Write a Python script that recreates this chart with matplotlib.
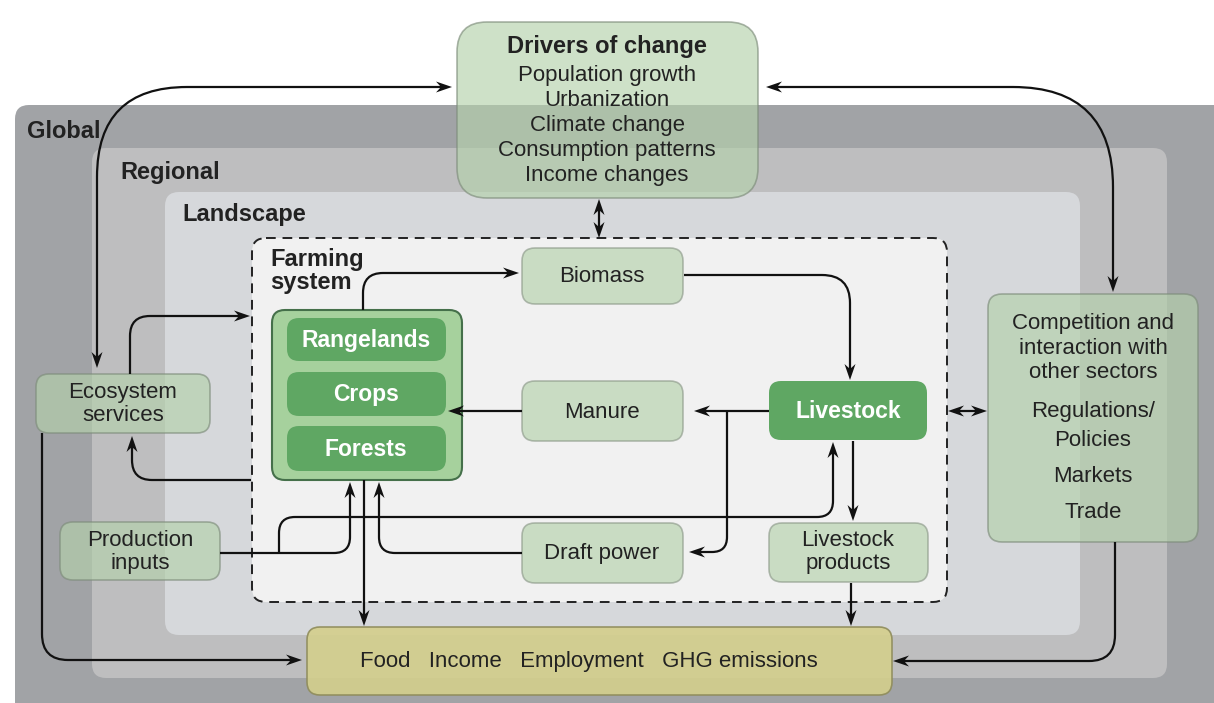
import numpy as np
import matplotlib.pyplot as plt
from matplotlib.patches import FancyBboxPatch, Polygon, PathPatch
from matplotlib.path import Path

plt.rcParams['font.family'] = ['Liberation Sans', 'DejaVu Sans']

# labels
layers = ["Global", "Regional", "Landscape"]
drivers_title = "Drivers of change"
drivers = ["Population growth", "Urbanization", "Climate change",
           "Consumption patterns", "Income changes"]
land_uses = ["Rangelands", "Crops", "Forests"]
farm_nodes = ["Biomass", "Manure", "Draft power"]
competition = ["Competition and", "interaction with", "other sectors",
               "Regulations/", "Policies", "Markets", "Trade"]
outcomes = ["Food", "Income", "Employment", "GHG emissions"]

# colours
GLOBAL = '#a1a3a6'
REGIONAL = '#bebebf'
LANDSCAPE = '#d6d8db'
FARM_BG = '#f1f1f1'
LIGHT = '#b4d1ab'
DARK = '#5fa763'
CONTAINER = '#a6d19d'
FOOD = '#d4cf8c'
TXT = '#222222'

fig = plt.figure(figsize=(12.14, 7.03), dpi=100)
ax = fig.add_axes([0, 0, 1, 1])
ax.set_xlim(0, 1214)
ax.set_ylim(703, 0)
ax.axis('off')


def box(x0, y0, x1, y1, fc, ec='none', r=12, lw=1.2, alpha=1.0, ls='-', z=1):
    p = FancyBboxPatch((x0, y0), x1 - x0, y1 - y0,
                       boxstyle=f"round,pad=0,rounding_size={r}",
                       fc=fc, ec=ec, lw=lw, alpha=alpha, ls=ls, zorder=z)
    ax.add_patch(p)
    return p


def route(pts, r):
    pts = [np.array(p, float) for p in pts]
    verts = [pts[0]]
    codes = [Path.MOVETO]
    for i in range(1, len(pts) - 1):
        p0, p1, p2 = pts[i - 1], pts[i], pts[i + 1]
        d1 = (p1 - p0) / np.linalg.norm(p1 - p0)
        d2 = (p2 - p1) / np.linalg.norm(p2 - p1)
        rr = min(r, np.linalg.norm(p1 - p0) * 0.9, np.linalg.norm(p2 - p1) * 0.9)
        verts += [p1 - d1 * rr, p1, p1 + d2 * rr]
        codes += [Path.LINETO, Path.CURVE3, Path.CURVE3]
    verts.append(pts[-1])
    codes.append(Path.LINETO)
    return Path(verts, codes)


def head(tip, d, L=16, w=5.5, notch=5):
    tip = np.array(tip, float)
    d = np.array(d, float) / np.linalg.norm(d)
    n = np.array([-d[1], d[0]])
    poly = [tip, tip - L * d + w * n, tip - (L - notch) * d, tip - L * d - w * n]
    ax.add_patch(Polygon(poly, closed=True, fc='#111111', ec='none', zorder=6))


def arrow(pts, r=15, ends='end'):
    pts = [np.array(p, float) for p in pts]
    if ends in ('end', 'both'):
        d = pts[-1] - pts[-2]
        d = d / np.linalg.norm(d)
        head(pts[-1], d)
        pts[-1] = pts[-1] - d * 10
    if ends in ('start', 'both'):
        d = pts[0] - pts[1]
        d = d / np.linalg.norm(d)
        head(pts[0], d)
        pts[0] = pts[0] - d * 10
    ax.add_patch(PathPatch(route(pts, r), fc='none', ec='#111111', lw=1.6, zorder=5))


# nested scales
box(15, 105, 1260, 760, GLOBAL, r=14, z=0)
box(92, 148, 1167, 678, REGIONAL, r=14, z=0.2)
box(165, 192, 1080, 635, LANDSCAPE, r=14, z=0.4)
box(252, 238, 947, 602, FARM_BG, ec='#222222', r=14, lw=1.4, ls=(0, (5, 3.5)), z=0.6)

for name, (x, y) in zip(layers, [(27, 131), (120, 172), (182, 215)]):
    ax.text(x, y, name, fontsize=17, fontweight='bold', color=TXT, va='center', ha='left', zorder=7)
ax.text(270, 271, "Farming\nsystem", fontsize=17, fontweight='bold', color=TXT,
        va='center', ha='left', linespacing=1.05, zorder=7)

# drivers
box(457, 22, 758, 198, LIGHT, ec='#7d8c7a', r=30, alpha=0.65, z=3)
ax.text(607, 46, drivers_title, fontsize=17, fontweight='bold', color=TXT, ha='center', va='center', zorder=7)
for i, s in enumerate(drivers):
    ax.text(607, 75 + i * 25.2, s, fontsize=16, color=TXT, ha='center', va='center', zorder=7)

# competition
box(988, 294, 1198, 542, LIGHT, ec='#7d8c7a', r=14, alpha=0.65, z=3)
for s, y in zip(competition, [323, 348, 372, 412, 441, 477, 512]):
    ax.text(1093, y, s, fontsize=16, color=TXT, ha='center', va='center', zorder=7)

# side boxes
box(36, 374, 210, 433, LIGHT, ec='#7d8c7a', r=13, alpha=0.65, z=3)
ax.text(123, 404, "Ecosystem\nservices", fontsize=16, color=TXT, ha='center', va='center', linespacing=1.15, zorder=7)
box(60, 522, 220, 580, LIGHT, ec='#7d8c7a', r=13, alpha=0.65, z=3)
ax.text(140, 552, "Production\ninputs", fontsize=16, color=TXT, ha='center', va='center', linespacing=1.15, zorder=7)

# farm nodes
for s, (y0, y1) in zip(farm_nodes, [(248, 304), (381, 441), (523, 583)]):
    box(522, y0, 683, y1, LIGHT, ec='#8d9a8a', r=13, alpha=0.65, z=3)
    ax.text(602, (y0 + y1) / 2 + 1, s, fontsize=16, color=TXT, ha='center', va='center', zorder=7)
box(769, 523, 928, 582, LIGHT, ec='#8d9a8a', r=13, alpha=0.65, z=3)
ax.text(848, 552, "Livestock\nproducts", fontsize=16, color=TXT, ha='center', va='center', linespacing=1.15, zorder=7)

box(769, 381, 927, 440, DARK, r=12, z=3)
ax.text(848, 411, "Livestock", fontsize=16.5, fontweight='bold', color='white', ha='center', va='center', zorder=7)

# land uses
box(272, 310, 462, 480, CONTAINER, ec='#45704a', r=13, lw=1.5, z=3)
for s, (y0, y1) in zip(land_uses, [(318, 361), (372, 416), (426, 471)]):
    box(287, y0, 446, y1, DARK, r=12, z=4)
    ax.text(366, (y0 + y1) / 2 + 1, s, fontsize=16.5, fontweight='bold', color='white', ha='center', va='center', zorder=7)

# outcomes
box(307, 627, 892, 695, FOOD, ec='#8f8c5b', r=13, alpha=0.9, z=3)
ax.text(589, 662, "   ".join(outcomes), fontsize=16, color=TXT, ha='center', va='center', zorder=7)

# arrows
arrow([(97, 368), (97, 87), (452, 87)], r=90, ends='both')
arrow([(766, 87), (1113, 87), (1113, 292)], r=100, ends='both')
arrow([(599, 199), (599, 238)], ends='both')
arrow([(130, 374), (130, 316), (250, 316)], r=20)
arrow([(251, 480), (132, 480), (132, 436)], r=20)
arrow([(363, 310), (363, 273), (519, 273)], r=20)
arrow([(684, 275), (850, 275), (850, 380)], r=28)
arrow([(769, 411), (694, 411)])
arrow([(522, 411), (448, 411)])
arrow([(727, 411), (727, 552), (689, 552)], r=15)
arrow([(853, 441), (853, 521)])
arrow([(851, 583), (851, 626)])
arrow([(220, 553), (350, 553), (350, 482)], r=16)
arrow([(279, 553), (279, 517), (833, 517), (833, 442)], r=16)
arrow([(522, 553), (379, 553), (379, 482)], r=16)
arrow([(364, 480), (364, 626)])
arrow([(42, 433), (42, 660), (302, 660)], r=26)
arrow([(1115, 542), (1115, 661), (893, 661)], r=26)
arrow([(948, 411), (987, 411)], ends='both')

fig.savefig('out.png', dpi=100)
